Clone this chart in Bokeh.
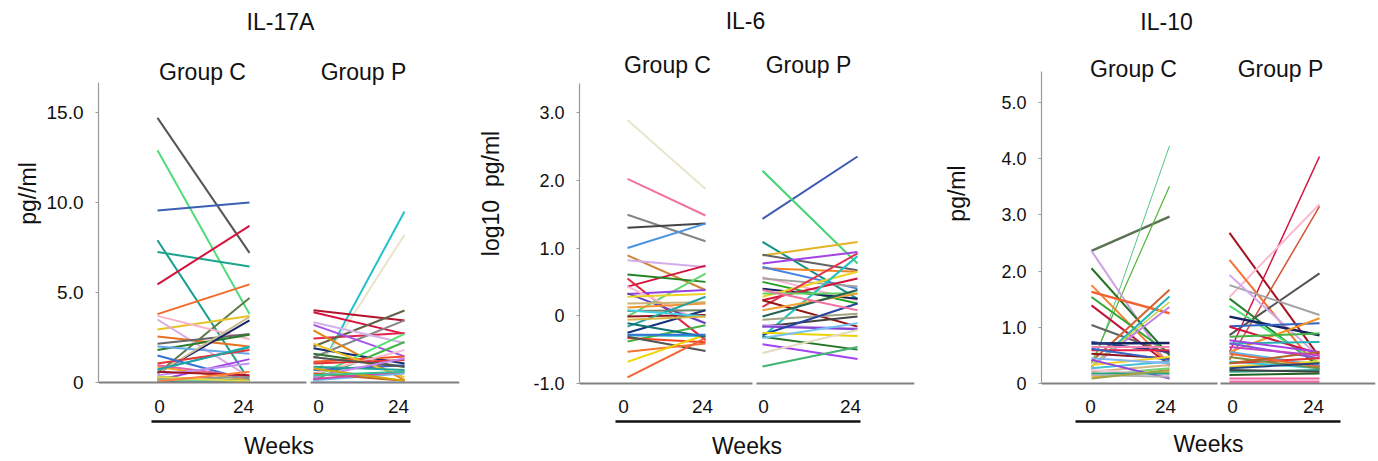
from bokeh.plotting import figure
from bokeh.models import Range1d, LinearAxis, FixedTicker, ColumnDataSource
from bokeh.layouts import row
from bokeh.embed import file_html
from bokeh.resources import INLINE
from bokeh.core.properties import value

# ---------------- DATA ----------------
TITLES = ["IL-17A", "IL-6", "IL-10"]
GROUPS = ["Group C", "Group P"]
WEEK_LABELS = ["0", "24", "0", "24"]
Y_LABELS = ["pg//ml", "log10\u00a0\u00a0pg/ml", "pg/ml"]

IL17A_TICKS = [0, 5, 10, 15]
IL17A_TICK_LABELS = ["0", "5.0", "10.0", "15.0"]
IL6_TICKS = [-1, 0, 1, 2, 3]
IL6_TICK_LABELS = ["-1.0", "0", "1.0", "2.0", "3.0"]
IL10_TICKS = [0, 1, 2, 3, 4, 5]
IL10_TICK_LABELS = ["0", "1.0", "2.0", "3.0", "4.0", "5.0"]

# IL-17A, Group C
IL17A_C_W0 = [14.7, 12.9, 9.55, 7.9, 7.25, 5.45, 3.8, 0.5, 2.95, 3.7, 3.5, 2.55, 2.15, 1.8, 2.0,
              0.5, 0.5, 0.7, 1.05, 0.13, 1.5, 0.3, 0.87, 0.96, 0.2, 0.03, 0.12, 0.72, 0.4, 0.6, 0.3, 0.05]
IL17A_C_W24 = [7.2, 3.8, 10.0, 0.1, 6.45, 8.7, 5.45, 4.7, 3.7, 2.4, 0.3, 2.0, 2.7, 2.65, 1.6,
               3.45, 3.65, 2.0, 1.8, 1.3, 0.13, 0.1, 0.13, 0.3, 0.3, 0.03, 0.1, 1.95, 1.05, 0.4, 0.05, 0.6]
# IL-17A, Group P
IL17A_P_W0 = [0.13, 0.3, 4.02, 3.9, 2.45, 2.0, 1.4, 3.2, 2.9, 3.35, 1.9, 1.6, 0.3, 0.13, 1.15, 0.5,
              0.7, 2.15, 0.87, 1.05, 0.13, 1.4, 0.3, 0.5, 0.2, 0.02, 0.78, 0.4]
IL17A_P_W24 = [9.5, 8.2, 3.45, 2.7, 2.75, 4.0, 3.45, 1.45, 0.13, 2.2, 1.05, 0.87, 2.7, 2.25, 1.45, 1.8,
               0.96, 0.3, 0.7, 1.25, 0.5, 0.87, 1.35, 0.1, 0.6, 0.02, 0.1, 0.6]

# IL-6 (log10), Group C
IL6_C_W0 = [2.89, 2.02, 1.49, 1.30, 1.0, 0.89, 0.82, 0.43, 0.61, 0.55, -0.01, 0.32, 0.43, 0.33, 0.28, 0.12,
            0.18, 0.07, -0.01, -0.25, -0.16, -0.29, -0.38, -0.33, -0.31, -0.53, -0.68, -0.91, 0.08, -0.06,
            -0.11, -0.28]
IL6_C_W24 = [1.87, 1.48, 1.10, 1.36, 1.36, 0.38, 0.72, 0.74, 0.5, -0.36, 0.62, 0.38, -0.11, -0.11, 0.32, 0.18,
             0.2, 0.08, 0.01, 0.08, 0.28, -0.3, -0.14, -0.39, -0.52, -0.41, -0.28, -0.33, -0.01, -0.01,
             -0.31, -0.28]
# IL-6 (log10), Group P
IL6_P_W0 = [1.43, 2.14, 1.09, 0.89, 0.9, 0.77, 0.7, 0.72, 0.57, 0.55, 0.5, 0.4, 0.28, 0.23, 0.13, 0.23,
            -0.31, 0.33, -0.06, -0.16, -0.14, -0.16, -0.28, -0.25, -0.31, -0.42, -0.55, -0.75, 0.08, -0.01,
            0.38, -0.33]
IL6_P_W24 = [2.35, 0.77, 0.25, 1.09, 0.67, 0.94, 0.65, 0.4, 0.23, 0.43, 0.18, 0.25, 0.65, 0.55, 0.92, -0.16,
             0.88, 0.33, 0.03, -0.01, -0.19, -0.2, 0.18, -0.3, -0.5, -0.64, -0.21, -0.46, 0.33, 0.38,
             0.08, -0.11]

# IL-10, Group C
IL10_C_W0 = [2.36, 0.24, 0.36, 2.36, 2.05, 1.75, 1.63, 1.54, 1.39, 1.04, 0.39, 0.3, 0.3, 0.31, 0.71, 0.74,
             0.65, 0.59, 0.53, 0.62, 0.33, 0.27, 0.21, 0.45, 0.15, 0.12, 0.24, 0.42, 0.18, 0.15, 0.09]
IL10_C_W24 = [2.97, 4.23, 3.51, 0.3, 0.5, 0.33, 1.25, 0.53, 0.33, 0.53, 1.67, 1.55, 1.36, 1.45, 0.72, 0.56,
              0.65, 0.59, 0.45, 0.42, 0.47, 0.39, 0.33, 0.36, 0.27, 0.21, 0.15, 0.09, 0.18, 0.12, 0.24]
# IL-10, Group P
IL10_P_W0 = [2.68, 0.56, 1.54, 0.42, 2.2, 0.86, 1.75, 1.93, 1.51, 1.38, 1.19, 1.02, 0.56, 1.01, 0.83, 0.71,
             0.77, 0.71, 0.56, 0.3, 0.39, 0.36, 0.15, 0.21, 0.03, 0.24, 0.09, 0.53, 0.47, 0.27, 0.36, 0.65]
IL10_P_W24 = [0.47, 4.04, 3.19, 3.15, 0.24, 1.96, 1.22, 0.47, 0.3, 0.36, 0.86, 1.07, 1.16, 0.53, 0.89, 0.74,
              0.56, 0.45, 0.33, 0.39, 0.27, 0.45, 0.18, 0.24, 0.03, 0.21, 0.09, 0.3, 0.27, 0.36, 0.56, 0.5]

# ---------------- STYLES ----------------
IL17A_C_COLORS = ["#555555", "#4fdc7a", "#3b5fb5", "#179e8c", "#1aa68a", "#d4123e", "#f26a24", "#5e7a45",
                  "#e9c326", "#f9b1c9", "#d9a9e3", "#e87020", "#666666", "#2b7d2b", "#62a9ea", "#13246b",
                  "#cbbb93", "#2fc2d2", "#e33434", "#a443e6", "#3473d4", "#3fa33f", "#f2a223", "#e262a3",
                  "#939393", "#2a63c6", "#84d484", "#1fa3a3", "#c293f2", "#a31425", "#e8d84a", "#ff8040"]
IL17A_P_COLORS = ["#22c2ca", "#ebe3cb", "#b3122a", "#d6143f", "#e32552", "#626448", "#858585", "#a553e6",
                  "#e38512", "#d3b3ea", "#132b73", "#327332", "#52e272", "#43b343", "#f25423", "#f9bbd3",
                  "#3363c3", "#eac424", "#23a393", "#e33333", "#73b3f2", "#535353", "#c383f2", "#c36323",
                  "#d343a3", "#a3cbf2", "#d3a303", "#33c393"]
IL6_C_COLORS = ["#e9e5cc", "#f273a3", "#858585", "#454545", "#4a92e2", "#d28435", "#d4abeb", "#d3123a",
                "#238323", "#e32345", "#62d373", "#9443e3", "#f9bbd3", "#6343c3", "#ead323", "#f29333",
                "#cbb373", "#738363", "#931323", "#13337a", "#23a3a3", "#33c3d3", "#43b343", "#f24323",
                "#535353", "#f27333", "#f2d303", "#f26333", "#43d3e3", "#dbb343", "#137373", "#3373d3"]
IL6_P_COLORS = ["#3b5bb3", "#43d373", "#139383", "#e3b323", "#636363", "#a343e3", "#f28323", "#4383e3",
                "#f9b3d3", "#a3a3a3", "#23a323", "#132363", "#f2d323", "#d3133a", "#e33353", "#931313",
                "#23c3c3", "#63d363", "#a3a383", "#434343", "#cba3eb", "#8343d3", "#2343a3", "#ebd303",
                "#237323", "#a343f2", "#e3dbc3", "#43b373", "#f2a333", "#236353", "#f273a3", "#73c3f2"]
IL10_C_COLORS = ["#5c7252", "#55c585", "#55b335", "#cba3e3", "#237323", "#f28333", "#f26333", "#33a333",
                 "#c3133a", "#636363", "#d36333", "#23b3b3", "#c383e3", "#c3d343", "#132363", "#233b83",
                 "#f283b3", "#e3234a", "#931323", "#3363c3", "#f2d323", "#43c3d3", "#d3b383", "#83b3f2",
                 "#73d373", "#f2b333", "#f9c3db", "#9343e3", "#23a383", "#b3b3b3", "#a3a343"]
IL10_C_WIDTHS = [2.5, 1, 1.2, 2, 2, 2, 2.5, 2, 2, 2, 2, 2, 2, 1.5, 2.5, 2, 2, 2, 2, 2, 2, 2, 2, 2, 2, 2,
                 2, 2, 2, 2, 2]
IL10_P_COLORS = ["#a31323", "#d3133f", "#f9bbd3", "#d35333", "#f27333", "#535353", "#a3a3a3", "#d3abeb",
                 "#238333", "#53e373", "#132363", "#3363c3", "#f29323", "#d3133f", "#43b343", "#23b3b3",
                 "#a343e3", "#8353e3", "#63b3eb", "#f2d323", "#33cbdb", "#e33333", "#236323", "#23a383",
                 "#f273ab", "#434343", "#f263a3", "#f26333", "#7b8b43", "#234383", "#b36323", "#c343c3"]
IL10_P_WIDTHS = [2, 1.5, 2, 1.5, 2, 2, 2, 2, 2, 2, 2.5, 2, 2, 2, 2, 2, 2, 2, 2, 2, 2, 2, 2, 2, 2.5, 2,
                 2, 2, 2, 2, 2, 2]

FONT = "Liberation Sans"
H = 461
FRAME_BOTTOM = 386   # px from top of page
BORDER_BOTTOM = H - FRAME_BOTTOM
TEXT_SHIFT = 8       # px correction for glyph text placement

# layout of each panel (pixel geometry, relative to the panel's frame left)
PANELS = [
    dict(title=TITLES[0], width=470, left=98, frame_w=361, y0=382.0, ppu=18.0, axis_top=82,
         base=0, ticks=IL17A_TICKS, tick_labels=IL17A_TICK_LABELS, ytick_font="19px",
         ylabel=Y_LABELS[0], ylabel_standoff=3,
         groups=[(59, 151, IL17A_C_W0, IL17A_C_W24, IL17A_C_COLORS, None),
                 (215, 306, IL17A_P_W0, IL17A_P_W24, IL17A_P_COLORS, None)],
         baseline=[(0, 208), (212, 361)], xticks=[61, 145, 220, 300], underline=(53, 312),
         weeks_standoff=11, title_xy=(182, 29.3), group_xy=[(104, 79), (265, 79)]),
    dict(title=TITLES[1], width=460, left=109, frame_w=335, y0=315.25, ppu=67.75, axis_top=83,
         base=-1, ticks=IL6_TICKS, tick_labels=IL6_TICK_LABELS, ytick_font="18px",
         ylabel=Y_LABELS[1], ylabel_standoff=26,
         groups=[(48, 126, IL6_C_W0, IL6_C_W24, IL6_C_COLORS, None),
                 (183, 278, IL6_P_W0, IL6_P_W24, IL6_P_COLORS, None)],
         baseline=[(0, 173), (177, 335)], xticks=[44, 123, 184, 271], underline=(36, 281),
         weeks_standoff=11, title_xy=(166, 28.3), group_xy=[(88, 72), (229, 72)]),
    dict(title=TITLES[2], width=448, left=111, frame_w=334, y0=383.0, ppu=56.2, axis_top=71,
         base=0, ticks=IL10_TICKS, tick_labels=IL10_TICK_LABELS, ytick_font="18px",
         ylabel=Y_LABELS[2], ylabel_standoff=28,
         groups=[(50, 128, IL10_C_W0, IL10_C_W24, IL10_C_COLORS, IL10_C_WIDTHS),
                 (188, 278, IL10_P_W0, IL10_P_W24, IL10_P_COLORS, IL10_P_WIDTHS)],
         baseline=[(0, 176), (179, 334)], xticks=[49, 124, 191, 272], underline=(34, 299),
         weeks_standoff=9, title_xy=(125, 29.0), group_xy=[(92, 76), (239, 76)]),
]


def make_panel(cfg):
    y0, ppu = cfg["y0"], cfg["ppu"]
    to_val = lambda px: (y0 - px) / ppu
    p = figure(width=cfg["width"], height=H,
               x_range=Range1d(0, cfg["frame_w"]),
               y_range=Range1d(to_val(FRAME_BOTTOM), to_val(0)),
               x_axis_type=None, title=None,
               output_backend="svg", toolbar_location=None,
               min_border_left=cfg["left"], min_border_right=cfg["width"] - cfg["left"] - cfg["frame_w"],
               min_border_top=0, min_border_bottom=BORDER_BOTTOM)
    p.outline_line_color = None
    p.background_fill_color = "white"
    p.border_fill_color = "white"
    p.grid.visible = False

    # y axis
    ya = p.yaxis[0]
    ya.ticker = FixedTicker(ticks=cfg["ticks"])
    ya.major_label_overrides = {t: l for t, l in zip(cfg["ticks"], cfg["tick_labels"])}
    ya.bounds = (cfg["base"], to_val(cfg["axis_top"]))
    ya.axis_line_color = "#9a9a9a"
    ya.axis_line_width = 1.2
    ya.major_tick_line_color = "#9a9a9a"
    ya.major_tick_in = 0
    ya.major_tick_out = 3
    ya.minor_tick_line_color = None
    ya.major_label_standoff = 12
    ya.major_label_text_font = FONT
    ya.major_label_text_font_size = cfg["ytick_font"]
    ya.major_label_text_color = "#111111"
    ya.axis_label = cfg["ylabel"]
    ya.axis_label_text_font = FONT
    ya.axis_label_text_font_size = "23px"
    ya.axis_label_text_font_style = "normal"
    ya.axis_label_text_color = "#111111"
    ya.axis_label_standoff = cfg["ylabel_standoff"]

    # spaghetti lines
    for xa, xb, w0, w24, colors, widths in cfg["groups"]:
        src = ColumnDataSource(dict(
            xs=[[xa, xb] for _ in w0],
            ys=[[a, b] for a, b in zip(w0, w24)],
            color=colors[:len(w0)],
            width=widths if widths else [2.0] * len(w0),
        ))
        p.multi_line(xs="xs", ys="ys", line_color="color", line_width="width", source=src)

    # broken baseline
    p.segment(x0=[a for a, b in cfg["baseline"]], x1=[b for a, b in cfg["baseline"]],
              y0=[cfg["base"]] * 2, y1=[cfg["base"]] * 2, line_color="#808080", line_width=1.8)

    # titles / group labels
    tx, ty = cfg["title_xy"]
    gx = [g[0] for g in cfg["group_xy"]]
    gy = [to_val(g[1] - TEXT_SHIFT) for g in cfg["group_xy"]]
    p.text(x=[tx] + gx, y=[to_val(ty - TEXT_SHIFT)] + gy, text=[cfg["title"]] + GROUPS,
           text_font=value(FONT), text_font_size="23px", text_align="center",
           text_baseline="alphabetic", text_color="#111111")

    # week tick labels
    ax1 = LinearAxis(ticker=FixedTicker(ticks=cfg["xticks"]),
                     major_label_overrides={t: l for t, l in zip(cfg["xticks"], WEEK_LABELS)},
                     axis_line_color=None, major_tick_line_color=None, minor_tick_line_color=None,
                     major_tick_in=0, major_tick_out=0, major_label_standoff=13,
                     major_label_text_font=FONT, major_label_text_font_size="19px",
                     major_label_text_color="#111111",
                     axis_label="\u00a0", axis_label_standoff=0,
                     axis_label_text_font_size="3px", axis_label_text_color=None)
    p.add_layout(ax1, "below")
    # underline + "Weeks"
    ax2 = LinearAxis(ticker=FixedTicker(ticks=[]), bounds=cfg["underline"],
                     axis_line_color="#111111", axis_line_width=2.5,
                     major_tick_line_color=None, minor_tick_line_color=None,
                     major_tick_in=0, major_tick_out=0,
                     axis_label="Weeks", axis_label_standoff=cfg["weeks_standoff"],
                     axis_label_text_font=FONT, axis_label_text_font_size="23px",
                     axis_label_text_font_style="normal", axis_label_text_color="#111111")
    p.add_layout(ax2, "below")
    return p


figs = [make_panel(c) for c in PANELS]
layout = row(*figs)
open("out.html", "w").write(file_html(layout, INLINE))
